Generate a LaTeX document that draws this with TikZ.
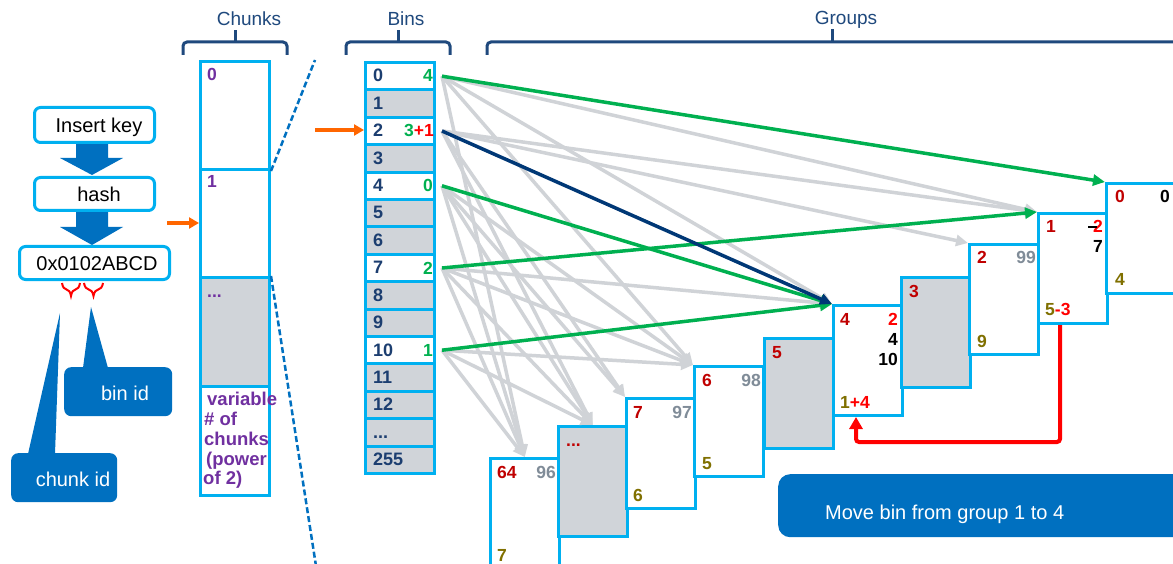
\documentclass[tikz,border=0pt]{standalone}
\usepackage{fontspec}
\setmainfont{Liberation Sans}
\usetikzlibrary{arrows.meta,decorations.pathreplacing,calc}
\definecolor{cy}{RGB}{0,176,240}
\definecolor{dkb}{RGB}{31,73,125}
\definecolor{binc}{RGB}{28,62,112}
\definecolor{blk}{RGB}{0,112,192}
\definecolor{gfill}{RGB}{208,212,217}
\definecolor{gline}{RGB}{208,211,215}
\definecolor{grn}{RGB}{0,176,80}
\definecolor{navy}{RGB}{0,56,118}
\definecolor{purp}{RGB}{112,48,160}
\definecolor{dred}{RGB}{192,0,0}
\definecolor{olv}{RGB}{128,112,0}
\definecolor{gtx}{RGB}{128,140,152}
\definecolor{org}{RGB}{255,102,0}
\definecolor{bred}{RGB}{255,0,0}
\tikzset{
 cellbox/.style={draw=cy, line width=3pt, minimum width=69pt, minimum height=27.4pt, inner sep=0pt, anchor=north west},
 chunkbox/.style={draw=cy, line width=3pt, minimum width=69pt, inner sep=0pt, anchor=north west},
 grpbox/.style={draw=cy, line width=3pt, fill=white, minimum width=68.5pt, minimum height=110pt, inner sep=0pt, anchor=north west},
 lbl/.style={inner sep=0pt, font=\fontsize{17.5}{18}\selectfont\bfseries},
 binlbl/.style={inner sep=0pt, text=binc, anchor=base west, font=\fontsize{18}{18}\selectfont\bfseries},
 title/.style={inner sep=0pt, text=dkb, anchor=base, font=\fontsize{19}{20}\selectfont},
 brk/.style={draw=dkb, line width=3pt, rounded corners=4pt},
 flowbox/.style={draw=cy, line width=3pt, fill=white, rounded corners=6pt, inner sep=0pt, anchor=north west},
 flowtxt/.style={inner sep=0pt, anchor=base, font=\fontsize{20}{22}\selectfont},
 callbox/.style={fill=blk, rounded corners=7pt, inner sep=0pt, anchor=north west},
 calltxt/.style={inner sep=0pt, text=white, anchor=base, font=\fontsize{20}{22}\selectfont},
 purtxt/.style={inner sep=0pt, text=purp, anchor=base west, font=\fontsize{18.5}{19}\selectfont\bfseries},
 greyarr/.style={draw=gline, line width=3.5pt, -{Triangle[length=12pt,width=11pt]}},
 grnarr/.style={draw=grn, line width=3.5pt, -{Triangle[length=12pt,width=11pt]}},
 navarr/.style={draw=navy, line width=3.5pt, -{Triangle[length=12pt,width=11pt]}},
 orgarr/.style={draw=org, line width=3.5pt, -{Triangle[length=10pt,width=11pt]}},
 redarr/.style={draw=bred, line width=4pt, rounded corners=3pt, -{Triangle[length=12pt,width=13pt]}},
 dashln/.style={draw=blk, line width=2.5pt, dash pattern=on 6pt off 3pt},
 brc/.style={draw=bred, line width=2pt, decorate, decoration={brace, mirror, amplitude=13pt}},
}
\begin{document}
\begin{tikzpicture}[x=1pt,y=-1pt]
\useasboundingbox (0,0) rectangle (1173,564);
\clip (0,0) rectangle (1173,564);
\fill[white] (0,0) rectangle (1173,564);

% titles and brackets
\node[title] (tchunks) at (249,26) {Chunks};
\node[title] (tbins) at (406,26) {Bins};
\node[title] (tgroups) at (846,25) {Groups};
\draw[brk] (183,55) -- (183,42) -- (287,42) -- (287,55);
\draw[draw=dkb, line width=3pt] (235,43) -- (235,30);
\draw[brk] (346,55) -- (346,42) -- (450,42) -- (450,55);
\draw[draw=dkb, line width=3pt] (398,43) -- (398,30);
\draw[brk] (487,55) -- (487,42) -- (1200,42);
\draw[draw=dkb, line width=3pt] (832,43) -- (832,29);

% left flow
\fill[blk] (76,142) -- (108,142) -- (108,158) -- (123,158) -- (92,175) -- (60,158) -- (76,158) -- cycle;
\fill[blk] (76,211) -- (108,211) -- (108,227) -- (123,227) -- (92,245) -- (60,227) -- (76,227) -- cycle;
\node[flowbox, minimum width=120pt, minimum height=35pt] (ins) at (33,106) {};
\node[flowtxt] (inst) at (99,133) {Insert key};
\node[flowbox, minimum width=120pt, minimum height=33pt] (hsh) at (33,176) {};
\node[flowtxt] (hsht) at (99,202) {hash};
\node[flowbox, minimum width=150pt, minimum height=33pt] (hex) at (18,245) {};
\node[flowtxt] (hext) at (97,270) {0x0102ABCD};
\draw[brc] (62,283) -- (80,283);
\draw[brc] (84,283) -- (103,283);

% callouts
\fill[blk] (83,368) -- (91,307) -- (108,368) -- cycle;
\node[callbox, minimum width=108pt, minimum height=49pt] (binid) at (64,367) {};
\node[calltxt] (binidt) at (125,400) {bin id};
\fill[blk] (28,454) -- (60,313) -- (55,454) -- cycle;
\node[callbox, minimum width=106pt, minimum height=49pt] (chid) at (11,453) {};
\node[calltxt] (chidt) at (73,486) {chunk id};

% chunks
\node[chunkbox, minimum height=108pt] (c0) at (199,60) {};
\node[chunkbox, minimum height=108pt] (c1) at (199,168) {};
\node[chunkbox, minimum height=109pt, fill=gfill] (c2) at (199,276) {};
\node[chunkbox, minimum height=109pt] (c3) at (199,385) {};
\node[lbl, text=purp, anchor=base west] (c0l) at (207,81) {0};
\node[lbl, text=purp, anchor=base west] (c1l) at (207,188) {1};
\node[lbl, text=purp, anchor=base west] (c2l) at (207,297) {...};
\node[purtxt] (v1) at (207,405) {variable};
\node[purtxt] (v2) at (204,425) {\# of};
\node[purtxt] (v3) at (204,445) {chunks};
\node[purtxt] (v4) at (206,465) {(power};
\node[purtxt] (v5) at (203,484) {of 2)};
\coordinate (dt) at (315,60);
\coordinate (db) at (316,566);
\draw[dashln] (c0.south east) -- (dt);
\draw[dashln] (c2.north east) -- (db);
\coordinate (o1) at (167,223);
\draw[orgarr] (o1) -- (c1.west |- o1);

% bins
\foreach \i/\lab/\f in {0/0/white,1/1/gfill,2/2/white,3/3/gfill,4/4/white,5/5/gfill,6/6/gfill,7/7/white,8/8/gfill,9/9/gfill,10/10/white,11/11/gfill,12/12/gfill,13/{...}/gfill,14/255/gfill}{
  \node[cellbox, fill=\f] (b\i) at (364,{61+27.4*\i}) {};
  \node[binlbl] (bl\i) at (373,{82+27.4*\i}) {\lab};
}
\node[lbl, text=grn, anchor=base east] (n0) at (433,82) {4};
\node[lbl, anchor=base east] (n2) at (434,137) {{\color{grn}3}{\color{bred}+1}};
\node[lbl, text=grn, anchor=base east] (n4) at (433,192) {0};
\node[lbl, text=grn, anchor=base east] (n7) at (433,274) {2};
\node[lbl, text=grn, anchor=base east] (n10) at (433,356) {1};
\coordinate (o2) at (315,130);
\draw[orgarr] (o2) -- (b2.west |- o2);

% groups
\node[grpbox] (g64) at (489,457) {};
\node[grpbox, fill=gfill] (gd) at (557,425) {};
\node[grpbox] (g7) at (625,397) {};
\node[grpbox] (g6) at (693,365) {};
\node[grpbox, fill=gfill] (g5) at (763,337) {};
\node[grpbox] (g4) at (832,304) {};
\node[grpbox, fill=gfill] (g3) at (900,276) {};
\node[grpbox] (g2) at (968,243) {};
\node[grpbox] (g1) at (1037,212) {};
\node[grpbox, minimum width=90pt] (g0) at (1105,182) {};

\node[lbl, text=dred, anchor=base west] at (497,478) {64};
\node[lbl, text=gtx, anchor=base east] at (556,478) {96};
\node[lbl, text=olv, anchor=base west] at (497,561) {7};
\node[lbl, text=dred, anchor=base west] at (566,446) {...};
\node[lbl, text=dred, anchor=base west] at (633,418) {7};
\node[lbl, text=gtx, anchor=base east] at (692,418) {97};
\node[lbl, text=olv, anchor=base west] at (633,501) {6};
\node[lbl, text=dred, anchor=base west] at (702,386) {6};
\node[lbl, text=gtx, anchor=base east] at (761,386) {98};
\node[lbl, text=olv, anchor=base west] at (702,469) {5};
\node[lbl, text=dred, anchor=base west] at (772,358) {5};
\node[lbl, text=dred, anchor=base west] at (840,325) {4};
\node[lbl, text=bred, anchor=base east] at (898,325) {2};
\node[lbl, anchor=base east] at (898,345) {4};
\node[lbl, anchor=base east] at (898,365) {10};
\node[lbl, anchor=base west] at (840,408) {{\color{olv}1}{\color{bred}+4}};
\node[lbl, text=dred, anchor=base west] at (909,297) {3};
\node[lbl, text=dred, anchor=base west] at (977,264) {2};
\node[lbl, text=gtx, anchor=base east] at (1036,264) {99};
\node[lbl, text=olv, anchor=base west] at (977,347) {9};
\node[lbl, text=dred, anchor=base west] at (1046,233) {1};
\node[lbl, text=bred, anchor=base east] (g1two) at (1103,233) {2};
\draw[black, line width=1.3pt] (1088,227) -- (1097,227);
\node[lbl, anchor=base east] at (1103,253) {7};
\node[lbl, anchor=base west] at (1045,316) {{\color{olv}5}{\color{bred}-3}};
\node[lbl, text=dred, anchor=base west] at (1115,203) {0};
\node[lbl, anchor=base west] at (1160,203) {0};
\node[lbl, text=olv, anchor=base west] at (1115,285) {4};

% connectors
\foreach \i in {0,2,4,7,10}{ \coordinate (s\i) at ($(b\i.east)+(6,0)$); }
\coordinate (t1) at (g1.north west);
\coordinate (t2) at (g2.north west);
\coordinate (t4) at (g4.north west);
\coordinate (t6) at (g6.north west);
\coordinate (t7) at (g7.north west);
\coordinate (td) at (gd.north);
\coordinate (t64) at (g64.north);
\foreach \s/\t in {s0/t1,s0/t4,s0/t6,s0/t64,s2/t1,s2/t2,s2/t7,s2/td,s4/t6,s4/t7,s4/td,s4/t64,s7/t4,s7/t6,s7/td,s7/t64,s10/t6,s10/td,s10/t64}{
  \draw[greyarr] (\s) -- (\t);
}
\draw[grnarr] (s0) -- (g0.north west);
\draw[grnarr] (s4) -- (t4);
\draw[grnarr] (s7) -- (t1);
\draw[grnarr] (s10) -- (t4);
\draw[navarr] (s2) -- (t4);
\draw[redarr] ($(g1.south west)+(23,0)$) -- ++(0,117) -| ($(g4.south west)+(24,0)$);

% move box
\node[callbox, rounded corners=12pt, minimum width=420pt, minimum height=63pt] (mv) at (778,474) {};
\node[inner sep=0pt, text=white, anchor=base west, font=\fontsize{20}{22}\selectfont] (mvt) at (825,519) {Move bin from group 1 to 4};
\end{tikzpicture}
\end{document}
